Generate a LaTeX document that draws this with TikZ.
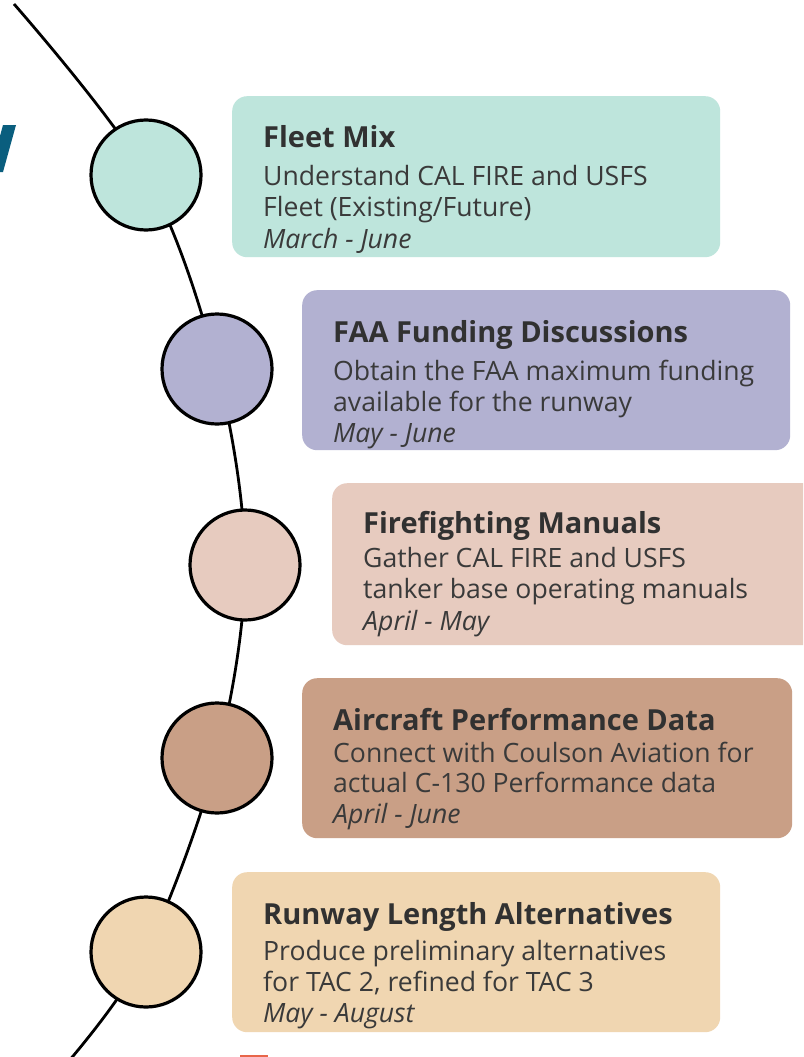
\documentclass[tikz,border=0pt]{standalone}
\usepackage{fontspec}
\setmainfont{Open Sans}
\definecolor{mint}{HTML}{BEE5DC}
\definecolor{lavender}{HTML}{B2B1D1}
\definecolor{blush}{HTML}{E7CBBF}
\definecolor{clay}{HTML}{C99F86}
\definecolor{sand}{HTML}{F0D6B1}
\definecolor{ink}{HTML}{3A3A3A}
\definecolor{deepteal}{HTML}{0A5E7E}
\definecolor{ember}{HTML}{E8664A}
\begin{document}
\begin{tikzpicture}[x=1pt,y=-1pt,
  card/.style={rectangle, rounded corners=15pt, draw=none, inner sep=0pt, anchor=north west},
  dot/.style={circle, draw=black, line width=3.2pt, minimum size=110pt, inner sep=0pt},
  head/.style={anchor=base west, inner sep=0pt, text=ink!85!black, font=\fontsize{29}{34}\selectfont\bfseries},
  body/.style={anchor=base west, inner sep=0pt, text=ink, font=\fontsize{26.6}{31}\selectfont},
  when/.style={body, font=\fontsize{26.6}{31}\selectfont\itshape}]
\clip (0,0) rectangle (803,1057);
\fill[white] (0,0) rectangle (803,1057);

% edge fragments
\fill[deepteal] (0,136) -- (3,125) -- (16,125) -- (3,172) -- (0,172) -- cycle;
\fill[ember] (240,1055) rectangle (268,1060);

% timeline points
\coordinate (top) at (14,4);
\coordinate (p1) at (146,175);
\coordinate (p2) at (217,369);
\coordinate (p3) at (245,565);
\coordinate (p4) at (217,758);
\coordinate (p5) at (146,952);
\coordinate (bot) at (68,1062);

\draw[line width=2.8pt] plot[smooth, tension=0.55] coordinates {(top) (p1) (p2) (p3) (p4) (p5) (bot)};

\node[dot, fill=mint] (c1) at (p1) {};
\node[dot, fill=lavender] (c2) at (p2) {};
\node[dot, fill=blush] (c3) at (p3) {};
\node[dot, fill=clay] (c4) at (p4) {};
\node[dot, fill=sand] (c5) at (p5) {};

% cards
\node[card, fill=mint, minimum width=488pt, minimum height=161pt] (k1) at (232,96) {};
\node[card, fill=lavender, minimum width=488pt, minimum height=160pt] (k2) at (302,290) {};
\node[card, fill=blush, minimum width=500pt, minimum height=162pt] (k3) at (332,483) {};
\node[card, fill=clay, minimum width=490pt, minimum height=160pt] (k4) at (302,678) {};
\node[card, fill=sand, minimum width=488pt, minimum height=160pt] (k5) at (232,872) {};

% card texts
\node[head] (h1) at (263,147) {Fleet Mix};
\node[body] (a1) at (263,185) {Understand CAL FIRE and USFS};
\node[body] (b1) at (263,216) {Fleet (Existing/Future)};
\node[when] (d1) at (263,248) {March - June};

\node[head] (h2) at (333,342) {FAA Funding Discussions};
\node[body] (a2) at (333,380) {Obtain the FAA maximum funding};
\node[body] (b2) at (333,411) {available for the runway};
\node[when] (d2) at (333,442) {May - June};

\node[head] (h3) at (363,533) {Firefighting Manuals};
\node[body] (a3) at (363,567) {Gather CAL FIRE and USFS};
\node[body] (b3) at (363,598) {tanker base operating manuals};
\node[when] (d3) at (363,630) {April - May};

\node[head] (h4) at (333,730) {Aircraft Performance Data};
\node[body] (a4) at (333,762) {Connect with Coulson Aviation for};
\node[body] (b4) at (333,792) {actual C-130 Performance data};
\node[when] (d4) at (333,823) {April - June};

\node[head] (h5) at (263,924) {Runway Length Alternatives};
\node[body] (a5) at (263,960) {Produce preliminary alternatives};
\node[body] (b5) at (263,991) {for TAC 2, refined for TAC 3};
\node[when] (d5) at (263,1022) {May - August};
\end{tikzpicture}
\end{document}
